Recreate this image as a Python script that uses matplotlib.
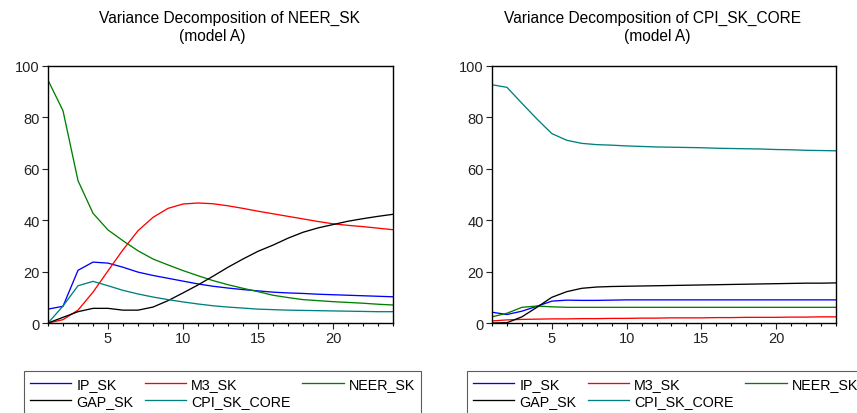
import numpy as np
import matplotlib.pyplot as plt

plt.rcParams['font.family'] = ['Liberation Sans', 'DejaVu Sans']

periods = np.arange(1, 25)
names = ["IP_SK", "M3_SK", "NEER_SK", "GAP_SK", "CPI_SK_CORE"]
colors = ["#0000ff", "#ff0000", "#008000", "#000000", "#008080"]

# variance decomposition of NEER_SK
neer_ip = [5.4, 6.5, 20.5, 23.7, 23.3, 21.7, 19.8, 18.5, 17.4, 16.3, 15.2, 14.3,
           13.6, 13.0, 12.5, 12.0, 11.7, 11.5, 11.2, 11.0, 10.8, 10.6, 10.4, 10.2]
neer_m3 = [0.0, 1.3, 5.0, 12.0, 20.3, 28.5, 35.9, 41.1, 44.6, 46.3, 46.7, 46.4,
           45.6, 44.6, 43.5, 42.5, 41.5, 40.5, 39.5, 38.6, 38.0, 37.5, 36.9, 36.3]
neer_neer = [94.5, 82.6, 55.4, 42.7, 36.2, 32.0, 28.1, 24.9, 22.6, 20.4, 18.4, 16.5,
             14.9, 13.5, 12.2, 10.8, 9.9, 9.1, 8.7, 8.3, 8.0, 7.7, 7.3, 7.0]
neer_gap = [0.0, 2.2, 4.4, 5.7, 5.7, 5.0, 5.0, 6.2, 8.7, 11.7, 14.8, 18.2,
            21.7, 24.9, 27.9, 30.3, 33.0, 35.3, 37.0, 38.3, 39.6, 40.6, 41.5, 42.3]
neer_cpi = [0.0, 6.6, 14.5, 16.2, 14.5, 12.7, 11.3, 10.1, 9.1, 8.2, 7.4, 6.7,
            6.2, 5.8, 5.4, 5.2, 5.0, 4.9, 4.8, 4.7, 4.6, 4.5, 4.4, 4.4]

# variance decomposition of CPI_SK_CORE
cpi_ip = [4.2, 3.3, 4.6, 6.5, 8.5, 8.9, 8.8, 8.8, 8.9, 9.0, 9.0, 9.0,
          9.0, 9.0, 9.0, 9.0, 9.0, 9.0, 9.0, 9.0, 9.0, 9.0, 9.0, 9.0]
cpi_m3 = [0.8, 1.2, 1.4, 1.5, 1.6, 1.6, 1.7, 1.7, 1.8, 1.8, 1.9, 1.9,
          2.0, 2.0, 2.0, 2.1, 2.1, 2.2, 2.2, 2.2, 2.3, 2.3, 2.4, 2.4]
cpi_neer = [2.4, 3.8, 6.1, 6.6, 6.3, 6.1, 6.1, 6.1, 6.1, 6.1, 6.1, 6.1,
            6.1, 6.1, 6.1, 6.1, 6.1, 6.1, 6.1, 6.1, 6.1, 6.1, 6.1, 6.1]
cpi_gap = [0.0, 0.1, 2.4, 6.1, 10.0, 12.2, 13.5, 14.0, 14.2, 14.3, 14.4, 14.5,
           14.6, 14.7, 14.8, 14.9, 15.0, 15.1, 15.2, 15.3, 15.4, 15.5, 15.5, 15.6]
cpi_cpi = [92.7, 91.7, 85.5, 79.4, 73.7, 71.1, 69.9, 69.4, 69.2, 68.9, 68.7, 68.5,
           68.4, 68.3, 68.2, 68.0, 67.9, 67.8, 67.7, 67.5, 67.4, 67.2, 67.1, 67.0]

panels = [
    ("Variance Decomposition of NEER_SK", [neer_ip, neer_m3, neer_neer, neer_gap, neer_cpi]),
    ("Variance Decomposition of CPI_SK_CORE", [cpi_ip, cpi_m3, cpi_neer, cpi_gap, cpi_cpi]),
]

W, H = 857, 414
fig = plt.figure(figsize=(W / 100, H / 100), dpi=100)

# pixel boxes of the two plot areas (left, right) and legends
ax_x = [(48, 393), (492, 836)]
title_x = [(229, 212), (652, 657)]
leg_x = [24, 467]
top_px, bot_px = 67, 324

for k, (title, series) in enumerate(panels):
    x0, x1 = ax_x[k]
    ax = fig.add_axes([x0 / W, 1 - bot_px / H, (x1 - x0) / W, (bot_px - top_px) / H])
    lines = []
    for vals, c, n in zip(series, colors, names):
        ln, = ax.plot(periods, vals, color=c, lw=0.95, label=n)
        lines.append(ln)
    ax.set_xlim(1, 24)
    ax.set_ylim(0, 100)
    ax.set_xticks([5, 10, 15, 20])
    ax.set_xticks(periods, minor=True)
    ax.set_yticks([0, 20, 40, 60, 80, 100])
    ax.tick_params(axis='both', which='major', direction='out', length=4, width=0.8,
                   labelsize=10.5, pad=2, colors='#222222')
    ax.tick_params(axis='x', which='minor', direction='out', length=2.5, width=0.8)
    for s in ax.spines.values():
        s.set_linewidth(1.0)

    fig.text(title_x[k][0] / W, 1 - 18 / H, title, ha='center', va='center', fontsize=11.2)
    fig.text(title_x[k][1] / W, 1 - 37 / H, "(model A)", ha='center', va='center', fontsize=11.2)

    # legend order so that ncol=3 fills rows like the reference
    order = [0, 3, 1, 4, 2]
    leg = fig.legend([lines[i] for i in order], [names[i] for i in order],
                     loc='upper left', bbox_to_anchor=(leg_x[k] / W, 1 - 372 / H),
                     ncol=3, fontsize=10.3, frameon=True, fancybox=False,
                     edgecolor='#333333', handlelength=2.9, handletextpad=0.35,
                     columnspacing=0.8, labelspacing=0.25, borderpad=0.4,
                     borderaxespad=0)
    leg.get_frame().set_linewidth(0.8)

fig.savefig("out.png", dpi=100)
